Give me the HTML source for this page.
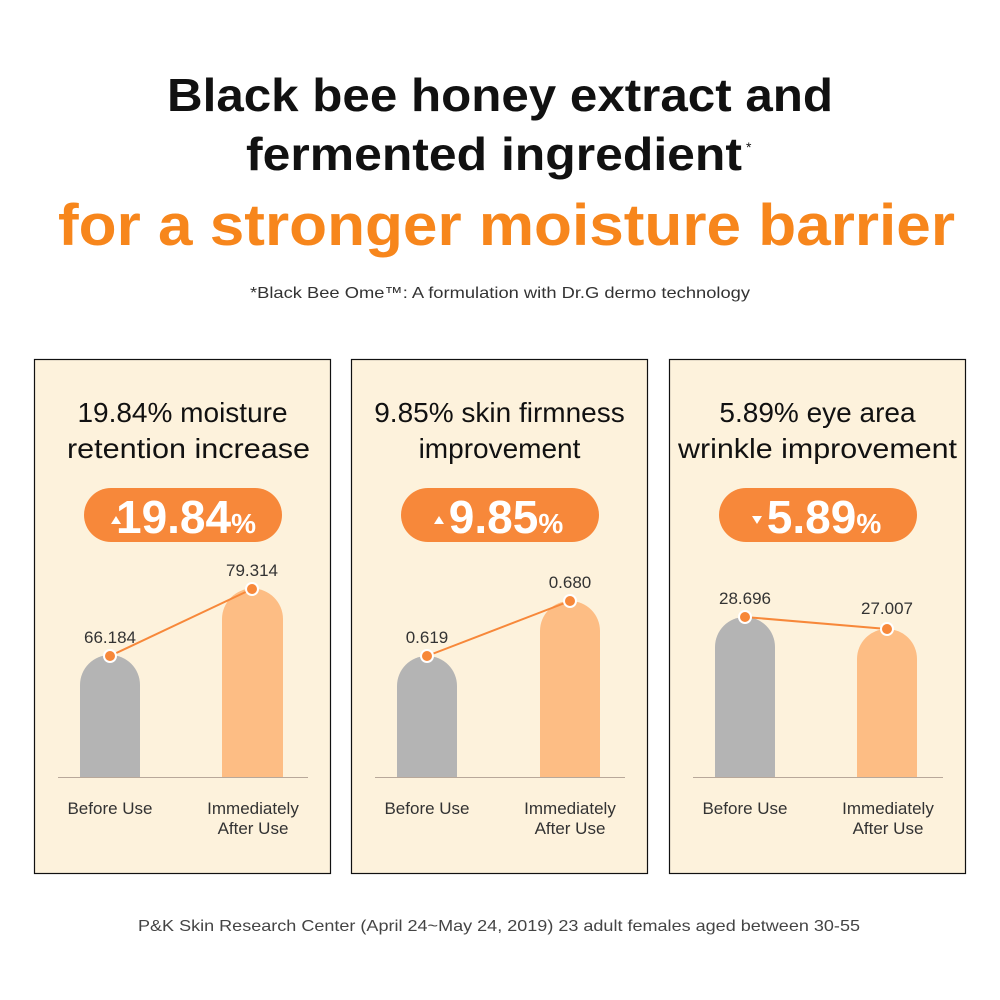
<!DOCTYPE html>
<html><head><meta charset="utf-8"><style>
body{margin:0;background:#fff;}
svg{display:block;font-family:"Liberation Sans",sans-serif;}
</style></head><body>
<svg width="1000" height="1000" viewBox="0 0 1000 1000">
<rect width="1000" height="1000" fill="#fff"/>
<text x="167" y="111" textLength="666" lengthAdjust="spacingAndGlyphs" font-size="46" font-weight="bold" fill="#111">Black bee honey extract and</text>
<text x="246" y="170" textLength="496" lengthAdjust="spacingAndGlyphs" font-size="46" font-weight="bold" fill="#111">fermented ingredient</text>
<text x="746" y="152" font-size="14" fill="#111">*</text>
<text x="58" y="245" textLength="897" lengthAdjust="spacingAndGlyphs" font-size="58" font-weight="bold" fill="#f7861c">for a stronger moisture barrier</text>
<text x="250" y="298" textLength="500" lengthAdjust="spacingAndGlyphs" font-size="16" fill="#333">*Black Bee Ome™: A formulation with Dr.G dermo technology</text>
<text x="138" y="931" textLength="722" lengthAdjust="spacingAndGlyphs" font-size="16" fill="#444">P&amp;K Skin Research Center (April 24~May 24, 2019) 23 adult females aged between 30-55</text>

<defs>
<g id="frame">
<rect x="0.5" y="0.5" width="296" height="514" fill="#fdf2dc" stroke="#111" stroke-width="1.2"/>
<rect x="50" y="129" width="198" height="54" rx="27" fill="#f7883a"/>
<line x1="24" y1="418.5" x2="274" y2="418.5" stroke="#b8a89a" stroke-width="1"/>
<text x="76" y="455" text-anchor="middle" font-size="17" fill="#333">Before Use</text>
<text x="219" y="455" text-anchor="middle" font-size="17" fill="#333">Immediately</text>
<text x="219" y="475" text-anchor="middle" font-size="17" fill="#333">After Use</text>
</g>
</defs>

<!-- Panel 1 -->
<g transform="translate(34,359)">
<use href="#frame"/>
<text x="148.5" y="63" text-anchor="middle" font-size="28" fill="#111">19.84% moisture</text>
<text x="33" y="99" textLength="243" lengthAdjust="spacingAndGlyphs" font-size="28" fill="#111">retention increase</text>
<polygon points="77,165 82,157 87,165" fill="#fff"/>
<text x="152" y="174" text-anchor="middle" font-size="46" font-weight="bold" fill="#fff">19.84<tspan font-size="28">%</tspan></text>
<path d="M46,418 V326 A30,30 0 0 1 106,326 V418 Z" fill="#b4b4b4"/>
<path d="M188,418 V260 A30.5,30.5 0 0 1 249,260 V418 Z" fill="#fdbd84"/>
<line x1="76" y1="297" x2="218" y2="230" stroke="#f7883a" stroke-width="2"/>
<circle cx="76" cy="297" r="6" fill="#f7883a" stroke="#fff" stroke-width="2"/>
<circle cx="218" cy="230" r="6" fill="#f7883a" stroke="#fff" stroke-width="2"/>
<text x="76" y="284" text-anchor="middle" font-size="17" fill="#333">66.184</text>
<text x="218" y="217" text-anchor="middle" font-size="17" fill="#333">79.314</text>
</g>

<!-- Panel 2 -->
<g transform="translate(351,359)">
<use href="#frame"/>
<text x="148.5" y="63" text-anchor="middle" font-size="28" fill="#111">9.85% skin firmness</text>
<text x="148.5" y="99" text-anchor="middle" font-size="28" fill="#111">improvement</text>
<polygon points="83,165 88,157 93,165" fill="#fff"/>
<text x="155" y="174" text-anchor="middle" font-size="46" font-weight="bold" fill="#fff">9.85<tspan font-size="28">%</tspan></text>
<path d="M46,418 V327 A30,30 0 0 1 106,327 V418 Z" fill="#b4b4b4"/>
<path d="M189,418 V272 A30,30 0 0 1 249,272 V418 Z" fill="#fdbd84"/>
<line x1="76" y1="297" x2="219" y2="242" stroke="#f7883a" stroke-width="2"/>
<circle cx="76" cy="297" r="6" fill="#f7883a" stroke="#fff" stroke-width="2"/>
<circle cx="219" cy="242" r="6" fill="#f7883a" stroke="#fff" stroke-width="2"/>
<text x="76" y="284" text-anchor="middle" font-size="17" fill="#333">0.619</text>
<text x="219" y="229" text-anchor="middle" font-size="17" fill="#333">0.680</text>
</g>

<!-- Panel 3 -->
<g transform="translate(669,359)">
<use href="#frame"/>
<text x="148.5" y="63" text-anchor="middle" font-size="28" fill="#111">5.89% eye area</text>
<text x="9" y="99" textLength="279" lengthAdjust="spacingAndGlyphs" font-size="28" fill="#111">wrinkle improvement</text>
<polygon points="83,157 93,157 88,165" fill="#fff"/>
<text x="155" y="174" text-anchor="middle" font-size="46" font-weight="bold" fill="#fff">5.89<tspan font-size="28">%</tspan></text>
<path d="M46,418 V288 A30,30 0 0 1 106,288 V418 Z" fill="#b4b4b4"/>
<path d="M188,418 V300 A30,30 0 0 1 248,300 V418 Z" fill="#fdbd84"/>
<line x1="76" y1="258" x2="218" y2="270" stroke="#f7883a" stroke-width="2"/>
<circle cx="76" cy="258" r="6" fill="#f7883a" stroke="#fff" stroke-width="2"/>
<circle cx="218" cy="270" r="6" fill="#f7883a" stroke="#fff" stroke-width="2"/>
<text x="76" y="245" text-anchor="middle" font-size="17" fill="#333">28.696</text>
<text x="218" y="255" text-anchor="middle" font-size="17" fill="#333">27.007</text>
</g>
</svg>
</body></html>
